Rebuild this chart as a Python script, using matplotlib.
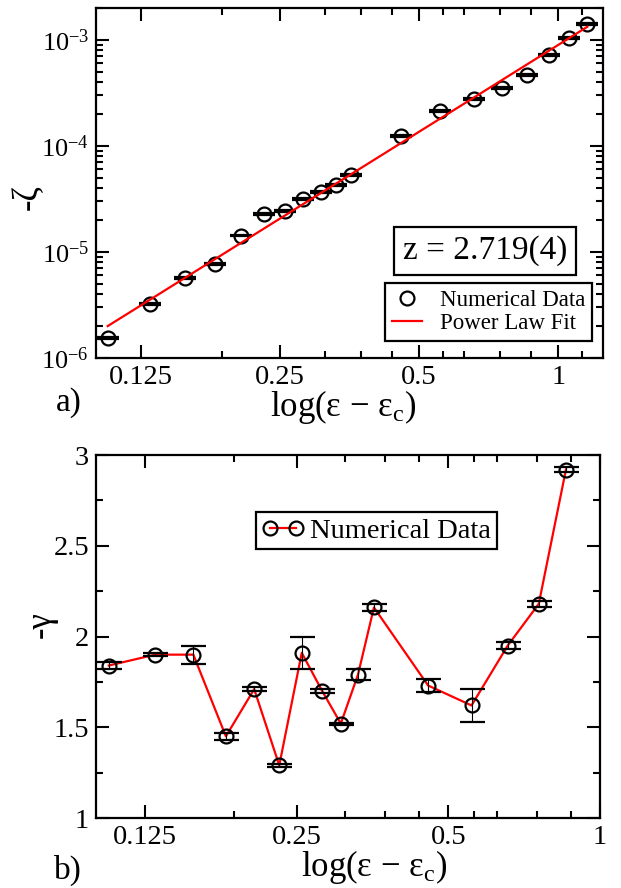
import matplotlib
matplotlib.use("Agg")
import matplotlib.pyplot as plt
from matplotlib.lines import Line2D
from matplotlib.ticker import FixedLocator, FixedFormatter, LogLocator, LogFormatterMathtext, MultipleLocator, NullFormatter

plt.rcParams['font.family'] = ['Liberation Serif', 'DejaVu Serif']
plt.rcParams['mathtext.fontset'] = 'custom'
plt.rcParams['mathtext.rm'] = 'Liberation Serif'
plt.rcParams['mathtext.it'] = 'Liberation Serif:italic'
plt.rcParams['mathtext.default'] = 'regular'

# panel a) data
eps_a = [0.106, 0.131, 0.156, 0.181, 0.206, 0.231, 0.256, 0.281, 0.306, 0.331,
         0.356, 0.456, 0.556, 0.656, 0.756, 0.856, 0.956, 1.056, 1.156]
zeta = [1.55e-6, 3.23e-6, 5.65e-6, 7.7e-6, 1.43e-5, 2.28e-5, 2.45e-5, 3.16e-5, 3.66e-5, 4.28e-5,
        5.3e-5, 1.24e-4, 2.15e-4, 2.77e-4, 3.5e-4, 4.68e-4, 7.2e-4, 1.04e-3, 1.42e-3]
zeta_err = [3e-8, 6e-8, 1e-7, 1.5e-7, 3e-7, 4e-7, 5e-7, 6e-7, 7e-7, 8e-7,
            1e-6, 2.5e-6, 4e-6, 5e-6, 7e-6, 9e-6, 1.4e-5, 2e-5, 2.8e-5]
# power law fit end points (z = 2.719)
fit_x = [0.106, 1.156]
fit_y = [2.0e-6, 1.33e-3]

# panel b) data
eps_b = [0.106, 0.131, 0.156, 0.181, 0.206, 0.231, 0.256, 0.281, 0.306, 0.331,
         0.356, 0.456, 0.556, 0.656, 0.756, 0.856]
gamma = [1.84, 1.90, 1.90, 1.45, 1.71, 1.29, 1.91, 1.70, 1.52, 1.79,
         2.16, 1.73, 1.62, 1.95, 2.18, 2.92]
gamma_err = [0.02, 0.01, 0.05, 0.02, 0.01, 0.01, 0.09, 0.01, 0.005, 0.03,
             0.02, 0.035, 0.09, 0.02, 0.015, 0.015]

xticks = [0.125, 0.25, 0.5, 1]
xticklabels = ["0.125", "0.25", "0.5", "1"]
xminor = [0.1875, 0.3125, 0.375, 0.4375, 0.5625, 0.625, 0.75, 0.875, 1.125]
yticks_b = [1, 1.5, 2, 2.5, 3]
yticklabels_b = ["1", "1.5", "2", "2.5", "3"]

W, H = 621, 888
fig = plt.figure(figsize=(W / 100, H / 100), dpi=100)


def box(l, t, r, b):
    return [l / W, 1 - b / H, (r - l) / W, (b - t) / H]


def style(ax):
    for s in ax.spines.values():
        s.set_linewidth(1.6)
    ax.tick_params(which='both', direction='in', top=True, right=True, width=1.5)
    ax.tick_params(which='major', length=9.5, pad=5)
    ax.tick_params(which='minor', length=5)
    ax.tick_params(axis='x', labelsize=20.5)
    ax.set_xscale('log')
    ax.xaxis.set_major_locator(FixedLocator(xticks))
    ax.xaxis.set_major_formatter(FixedFormatter(xticklabels))
    ax.xaxis.set_minor_locator(FixedLocator(xminor))
    ax.xaxis.set_minor_formatter(NullFormatter())


# ---- a) ----
ax1 = fig.add_axes(box(96, 8, 603, 358))
style(ax1)
ax1.set_yscale('log')
ax1.tick_params(axis='y', labelsize=19)
ax1.errorbar(eps_a, zeta, yerr=zeta_err, fmt='o', ms=10, mfc='none', mec='black', mew=1.6,
             ecolor='black', elinewidth=1, capsize=8, capthick=2.2, zorder=2)
ax1.plot(fit_x, fit_y, color='red', lw=1.6, zorder=3)
ax1.set_xlim(0.1, 1.25)
ax1.set_ylim(1e-6, 2e-3)
ax1.yaxis.set_major_locator(LogLocator(base=10, numticks=10))
ax1.yaxis.set_major_formatter(LogFormatterMathtext())
ax1.yaxis.set_minor_locator(LogLocator(base=10, subs=range(2, 10), numticks=20))
ax1.yaxis.set_minor_formatter(NullFormatter())
ax1.set_xlabel(r"log(ε − ε$_c$)", fontsize=25)
ax1.xaxis.set_label_coords((343 - 96) / 507, (358 - 388) / 350)
h1 = [Line2D([], [], ls='none', marker='o', ms=10, mfc='none', mec='black', mew=1.6),
      Line2D([], [], color='red', lw=1.6)]
leg1 = fig.legend(h1, ["Numerical Data", "Power Law Fit"], loc='upper left',
                  bbox_to_anchor=(385 / W, 1 - 283 / H), borderaxespad=0, fancybox=False,
                  edgecolor='black', framealpha=1, fontsize=16.5, handlelength=1.3,
                  labelspacing=0.1, borderpad=0.3, handletextpad=0.8)
leg1.get_frame().set_linewidth(1.6)
fig.text(485 / W, 1 - 251 / H, "z = 2.719(4)", fontsize=24, ha='center', va='center',
         bbox=dict(boxstyle='square,pad=0.25', fc='white', ec='black', lw=1.6))
fig.text(28 / W, 1 - 197 / H, "-ζ", fontsize=25, rotation=90, ha='center', va='center')
fig.text(69 / W, 1 - 403 / H, "a)", fontsize=24, ha='center', va='center')

# ---- b) ----
ax2 = fig.add_axes(box(96, 455, 600, 818))
style(ax2)
ax2.tick_params(axis='y', labelsize=20.5)
ax2.plot(eps_b, gamma, color='red', lw=1.6, zorder=2)
ax2.errorbar(eps_b, gamma, yerr=gamma_err, fmt='o', ms=10, mfc='none', mec='black', mew=1.6,
             ecolor='black', elinewidth=0.8, capsize=9, capthick=2.2, zorder=3)
ax2.set_xlim(0.1, 1)
ax2.set_ylim(1, 3)
ax2.set_yticks(yticks_b)
ax2.set_yticklabels(yticklabels_b)
ax2.yaxis.set_minor_locator(MultipleLocator(0.25))
ax2.set_xlabel(r"log(ε − ε$_c$)", fontsize=25)
ax2.xaxis.set_label_coords((374 - 96) / 504, (818 - 848) / 363)
h2 = [Line2D([], [], color='red', lw=1.6, marker='o', ms=10, mfc='none', mec='black', mew=1.6)]
leg2 = fig.legend(h2, ["Numerical Data"], loc='upper left', numpoints=2,
                  bbox_to_anchor=(256 / W, 1 - 512 / H), borderaxespad=0, fancybox=False,
                  edgecolor='black', framealpha=1, fontsize=20.5, handlelength=1.5,
                  borderpad=0.2, handletextpad=0.2)
leg2.get_frame().set_linewidth(1.6)
fig.text(41 / W, 1 - 625 / H, "-γ", fontsize=25, rotation=90, ha='center', va='center')
fig.text(68 / W, 1 - 870 / H, "b)", fontsize=24, ha='center', va='center')

fig.savefig("out.png", dpi=100)
